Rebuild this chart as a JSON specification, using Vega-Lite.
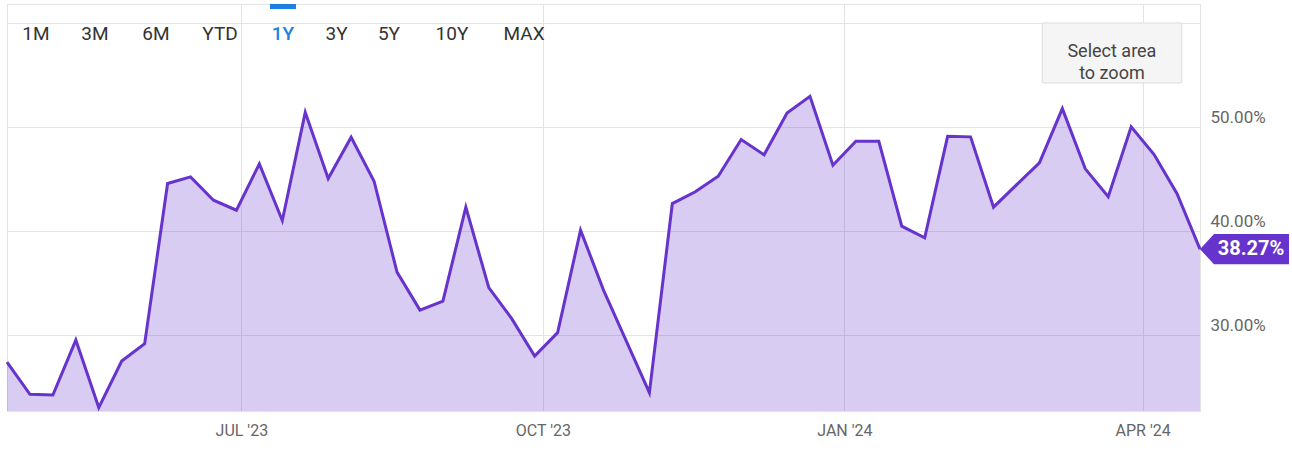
{
  "$schema": "https://vega.github.io/schema/vega-lite/v6.json",
  "width": 1193,
  "height": 407,
  "autosize": {"type": "none"},
  "padding": {"left": 7, "top": 4, "right": 92, "bottom": 49},
  "background": "white",
  "config": {"view": {"stroke": "#e3e3e3", "strokeWidth": 1}, "font": "Roboto"},
  "data": {"values": [
    {"date": "2023-04-20T12:00", "v": 27.40},
    {"date": "2023-04-27T12:00", "v": 24.30},
    {"date": "2023-05-04T12:00", "v": 24.23},
    {"date": "2023-05-11T12:00", "v": 29.52},
    {"date": "2023-05-18T12:00", "v": 23.02},
    {"date": "2023-05-25T12:00", "v": 27.50},
    {"date": "2023-06-01T12:00", "v": 29.17},
    {"date": "2023-06-08T12:00", "v": 44.59},
    {"date": "2023-06-15T12:00", "v": 45.23},
    {"date": "2023-06-22T12:00", "v": 42.98},
    {"date": "2023-06-29T12:00", "v": 42.02},
    {"date": "2023-07-06T12:00", "v": 46.48},
    {"date": "2023-07-13T12:00", "v": 41.03},
    {"date": "2023-07-20T12:00", "v": 51.44},
    {"date": "2023-07-27T12:00", "v": 45.07},
    {"date": "2023-08-03T12:00", "v": 49.04},
    {"date": "2023-08-10T12:00", "v": 44.81},
    {"date": "2023-08-17T12:00", "v": 36.06},
    {"date": "2023-08-24T12:00", "v": 32.40},
    {"date": "2023-08-31T12:00", "v": 33.27},
    {"date": "2023-09-07T12:00", "v": 42.31},
    {"date": "2023-09-14T12:00", "v": 34.56},
    {"date": "2023-09-21T12:00", "v": 31.58},
    {"date": "2023-09-28T12:00", "v": 27.98},
    {"date": "2023-10-05T12:00", "v": 30.23},
    {"date": "2023-10-12T12:00", "v": 40.10},
    {"date": "2023-10-19T12:00", "v": 34.33},
    {"date": "2023-10-26T12:00", "v": 29.40},
    {"date": "2023-11-02T12:00", "v": 24.46},
    {"date": "2023-11-09T12:00", "v": 42.66},
    {"date": "2023-11-16T12:00", "v": 43.79},
    {"date": "2023-11-23T12:00", "v": 45.29},
    {"date": "2023-11-30T12:00", "v": 48.82},
    {"date": "2023-12-07T12:00", "v": 47.35},
    {"date": "2023-12-14T12:00", "v": 51.38},
    {"date": "2023-12-21T12:00", "v": 52.98},
    {"date": "2023-12-28T12:00", "v": 46.35},
    {"date": "2024-01-04T12:00", "v": 48.65},
    {"date": "2024-01-11T12:00", "v": 48.65},
    {"date": "2024-01-18T12:00", "v": 40.48},
    {"date": "2024-01-25T12:00", "v": 39.37},
    {"date": "2024-02-01T12:00", "v": 49.13},
    {"date": "2024-02-08T12:00", "v": 49.08},
    {"date": "2024-02-15T12:00", "v": 42.31},
    {"date": "2024-02-22T12:00", "v": 44.46},
    {"date": "2024-02-29T12:00", "v": 46.58},
    {"date": "2024-03-07T12:00", "v": 51.80},
    {"date": "2024-03-14T12:00", "v": 46.00},
    {"date": "2024-03-21T12:00", "v": 43.31},
    {"date": "2024-03-28T12:00", "v": 50.04},
    {"date": "2024-04-04T12:00", "v": 47.38},
    {"date": "2024-04-11T12:00", "v": 43.60},
    {"date": "2024-04-18T12:00", "v": 38.27}
  ]},
  "layer": [
    {
      "mark": {"type": "area", "fill": "#6633cc", "fillOpacity": 0.25, "strokeWidth": 0},
      "encoding": {
        "x": {
          "field": "date", "type": "temporal",
          "scale": {"domain": [{"year": 2023, "month": 4, "date": 20, "hours": 12}, {"year": 2024, "month": 4, "date": 18, "hours": 12}]},
          "axis": {
            "values": [{"year": 2023, "month": 7, "date": 1}, {"year": 2023, "month": 10, "date": 1}, {"year": 2024, "month": 1, "date": 1}, {"year": 2024, "month": 4, "date": 1}],
            "labelExpr": "upper(timeFormat(datum.value, \"%b '%y\"))",
            "title": null, "domain": false, "ticks": false, "grid": true, "gridColor": "#e3e3e3", "gridWidth": 1,
            "labelFont": "Roboto", "labelFontSize": 16, "labelColor": "#666666", "labelPadding": 11,
            "labelFlush": false, "labelOverlap": false
          }
        },
        "y": {
          "field": "v", "type": "quantitative",
          "scale": {"domain": [22.69, 61.87], "nice": false, "zero": false},
          "axis": {
            "orient": "right", "values": [30, 40, 50, 60],
            "labelExpr": "datum.value >= 60 ? '' : format(datum.value, '.2f') + '%'",
            "title": null, "domain": false, "ticks": false, "grid": true, "gridColor": "#e3e3e3", "gridWidth": 1,
            "labelFont": "Roboto", "labelFontSize": 17, "labelColor": "#666666", "labelPadding": 10,
            "labelBaseline": "alphabetic", "labelOffset": -5, "labelFlush": false, "labelOverlap": false
          }
        },
        "y2": {"datum": 22.69}
      }
    },
    {
      "mark": {"type": "line", "color": "#6633cc", "strokeWidth": 3},
      "encoding": {
        "x": {"field": "date", "type": "temporal"},
        "y": {"field": "v", "type": "quantitative"}
      }
    },
    {
      "transform": [
        {"window": [{"op": "row_number", "as": "rn"}], "sort": [{"field": "date", "order": "descending"}]},
        {"filter": "datum.rn == 1"}
      ],
      "mark": {"type": "point", "shape": "M0,0L1.4,-1.52L8.9,-1.52L8.9,1.52L1.4,1.52Z", "size": 400, "filled": true, "color": "#6633cc", "opacity": 1, "strokeWidth": 0},
      "encoding": {
        "x": {"field": "date", "type": "temporal"},
        "y": {"field": "v", "type": "quantitative"}
      }
    },
    {
      "transform": [
        {"window": [{"op": "row_number", "as": "rn"}], "sort": [{"field": "date", "order": "descending"}]},
        {"filter": "datum.rn == 1"},
        {"calculate": "format(datum.v, '.2f') + '%'", "as": "label"}
      ],
      "mark": {"type": "text", "dx": 51, "align": "center", "baseline": "middle", "font": "Roboto", "fontSize": 20, "fontWeight": "bold", "color": "white"},
      "encoding": {
        "x": {"field": "date", "type": "temporal"},
        "y": {"field": "v", "type": "quantitative"},
        "text": {"field": "label"}
      }
    },
    {
      "data": {"values": [{}]},
      "mark": {"type": "rect", "fill": "#f5f5f5", "stroke": "#dcdcdc", "strokeWidth": 1},
      "encoding": {
        "x": {"datum": {"year": 2024, "month": 3, "date": 1, "hours": 9}, "type": "temporal"},
        "x2": {"datum": {"year": 2024, "month": 4, "date": 12, "hours": 22}},
        "y": {"datum": 60.04, "type": "quantitative"},
        "y2": {"datum": 54.27}
      }
    },
    {
      "data": {"values": [{}]},
      "mark": {"type": "text", "text": ["Select area", "to zoom"], "align": "center", "baseline": "middle", "lineHeight": 21.7, "font": "Roboto", "fontSize": 18, "color": "#444444"},
      "encoding": {
        "x": {"datum": {"year": 2024, "month": 3, "date": 22, "hours": 15}, "type": "temporal"},
        "y": {"datum": 57.23, "type": "quantitative"}
      }
    },
    {
      "data": {"values": [{}]},
      "mark": {"type": "rect", "fill": "#1a7fe0"},
      "encoding": {
        "x": {"datum": {"year": 2023, "month": 7, "date": 9, "hours": 18}, "type": "temporal"},
        "x2": {"datum": {"year": 2023, "month": 7, "date": 17, "hours": 16}},
        "y": {"datum": 61.87, "type": "quantitative"},
        "y2": {"datum": 61.38}
      }
    },
    {
      "data": {"values": [{}]},
      "mark": {"type": "text", "text": "1M", "align": "center", "baseline": "middle", "font": "Roboto", "fontSize": 19, "color": "#333333"},
      "encoding": {"x": {"datum": {"year": 2023, "month": 4, "date": 29, "hours": 8}, "type": "temporal"}, "y": {"datum": 59.0, "type": "quantitative"}}
    },
    {
      "data": {"values": [{}]},
      "mark": {"type": "text", "text": "3M", "align": "center", "baseline": "middle", "font": "Roboto", "fontSize": 19, "color": "#333333"},
      "encoding": {"x": {"datum": {"year": 2023, "month": 5, "date": 17, "hours": 8}, "type": "temporal"}, "y": {"datum": 59.0, "type": "quantitative"}}
    },
    {
      "data": {"values": [{}]},
      "mark": {"type": "text", "text": "6M", "align": "center", "baseline": "middle", "font": "Roboto", "fontSize": 19, "color": "#333333"},
      "encoding": {"x": {"datum": {"year": 2023, "month": 6, "date": 4, "hours": 23}, "type": "temporal"}, "y": {"datum": 59.0, "type": "quantitative"}}
    },
    {
      "data": {"values": [{}]},
      "mark": {"type": "text", "text": "YTD", "align": "center", "baseline": "middle", "font": "Roboto", "fontSize": 19, "color": "#333333"},
      "encoding": {"x": {"datum": {"year": 2023, "month": 6, "date": 24, "hours": 12}, "type": "temporal"}, "y": {"datum": 59.0, "type": "quantitative"}}
    },
    {
      "data": {"values": [{}]},
      "mark": {"type": "text", "text": "1Y", "align": "center", "baseline": "middle", "font": "Roboto", "fontSize": 19, "fontWeight": 500, "color": "#1a82e2"},
      "encoding": {"x": {"datum": {"year": 2023, "month": 7, "date": 13, "hours": 17}, "type": "temporal"}, "y": {"datum": 59.0, "type": "quantitative"}}
    },
    {
      "data": {"values": [{}]},
      "mark": {"type": "text", "text": "3Y", "align": "center", "baseline": "middle", "font": "Roboto", "fontSize": 19, "color": "#333333"},
      "encoding": {"x": {"datum": {"year": 2023, "month": 7, "date": 30, "hours": 1}, "type": "temporal"}, "y": {"datum": 59.0, "type": "quantitative"}}
    },
    {
      "data": {"values": [{}]},
      "mark": {"type": "text", "text": "5Y", "align": "center", "baseline": "middle", "font": "Roboto", "fontSize": 19, "color": "#333333"},
      "encoding": {"x": {"datum": {"year": 2023, "month": 8, "date": 15, "hours": 1}, "type": "temporal"}, "y": {"datum": 59.0, "type": "quantitative"}}
    },
    {
      "data": {"values": [{}]},
      "mark": {"type": "text", "text": "10Y", "align": "center", "baseline": "middle", "font": "Roboto", "fontSize": 19, "color": "#333333"},
      "encoding": {"x": {"datum": {"year": 2023, "month": 9, "date": 3, "hours": 6}, "type": "temporal"}, "y": {"datum": 59.0, "type": "quantitative"}}
    },
    {
      "data": {"values": [{}]},
      "mark": {"type": "text", "text": "MAX", "align": "center", "baseline": "middle", "font": "Roboto", "fontSize": 19, "color": "#333333"},
      "encoding": {"x": {"datum": {"year": 2023, "month": 9, "date": 25, "hours": 6}, "type": "temporal"}, "y": {"datum": 59.0, "type": "quantitative"}}
    }
  ]
}
